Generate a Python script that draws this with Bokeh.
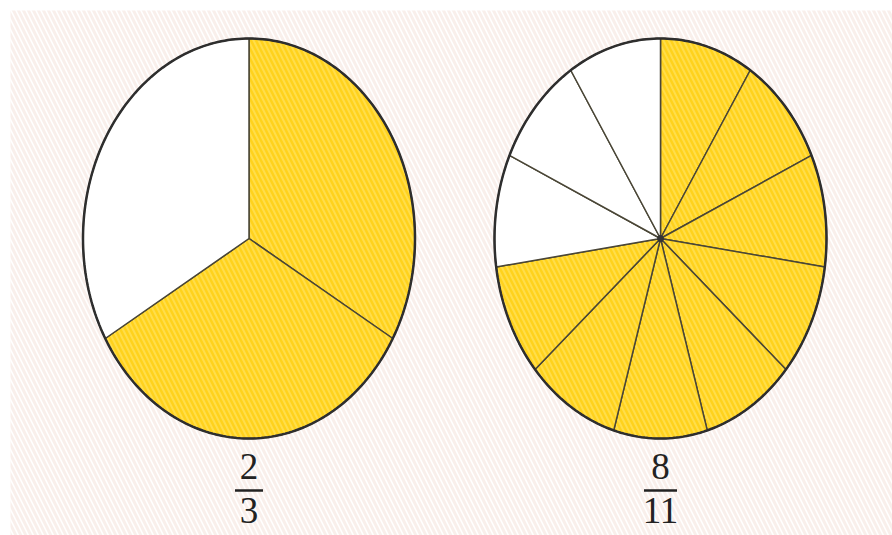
import numpy as np
from bokeh.plotting import figure
from bokeh.models import Range1d, ColumnDataSource
from bokeh.core.properties import value
from bokeh.embed import file_html
from bokeh.resources import INLINE

# Data
numerators = [2, 8]
denominators = [3, 11]
labels_num = ["2", "8"]
labels_den = ["3", "11"]

# Layout (pixels)
W, H = 892, 535
centers_x = [248.5, 660.0]
center_y = 238.0
rx, ry = 166.0, 200.0
YELLOW = "#FFD21C"
HATCH_Y = "#FFE35E"

p = figure(width=W, height=H, output_backend="svg", toolbar_location=None,
           x_range=Range1d(0, W), y_range=Range1d(H, 0), min_border=0)
p.axis.visible = False
p.grid.visible = False
p.outline_line_color = None
p.background_fill_color = "white"
p.border_fill_color = "white"

# background hatch
p.quad(left=[10], right=[W], top=[10], bottom=[H], fill_color="white", line_color=None,
       hatch_pattern="\\", hatch_color="#F2DCD2", hatch_alpha=0.45, hatch_scale=10, hatch_weight=3)

xs, ys, fills, hatches = [], [], [], []
for cx, num, den in zip(centers_x, numerators, denominators):
    for k in range(den):
        a0 = 2 * np.pi * k / den
        a1 = 2 * np.pi * (k + 1) / den
        t = np.linspace(a0, a1, 60)
        px = np.concatenate([[cx], cx + rx * np.sin(t)])
        py = np.concatenate([[center_y], center_y - ry * np.cos(t)])
        xs.append(list(px)); ys.append(list(py))
        fills.append(YELLOW if k < num else "white")
        hatches.append("\\" if k < num else " ")

src = ColumnDataSource(dict(xs=xs, ys=ys, fill=fills, hatch=hatches))
p.patches("xs", "ys", source=src, fill_color="fill", line_color="#4a4636", line_width=1.5,
          hatch_pattern="hatch", hatch_color=HATCH_Y, hatch_alpha=0.7, hatch_scale=10, hatch_weight=2)

# outlines
tt = np.linspace(0, 2 * np.pi, 300)
for cx in centers_x:
    p.line(cx + rx * np.sin(tt), center_y - ry * np.cos(tt), line_color="#2e2e2e", line_width=2.5)

# center dot of right pie
p.scatter([centers_x[1]], [center_y], size=6, color="#333333")

# fraction labels
p.text(x=centers_x, y=[466, 466], text=labels_num, text_align="center", text_baseline="middle",
       text_font=value("Liberation Serif"), text_font_size="37px", text_color="#222222")
p.text(x=centers_x, y=[510, 510], text=labels_den, text_align="center", text_baseline="middle",
       text_font=value("Liberation Serif"), text_font_size="37px", text_color="#222222")
bar_half = [14, 16.5]
p.segment(x0=[c - b for c, b in zip(centers_x, bar_half)], y0=[490, 490],
          x1=[c + b for c, b in zip(centers_x, bar_half)], y1=[490, 490],
          line_color="#222222", line_width=2.5)

open("out.html", "w").write(file_html(p, INLINE))
